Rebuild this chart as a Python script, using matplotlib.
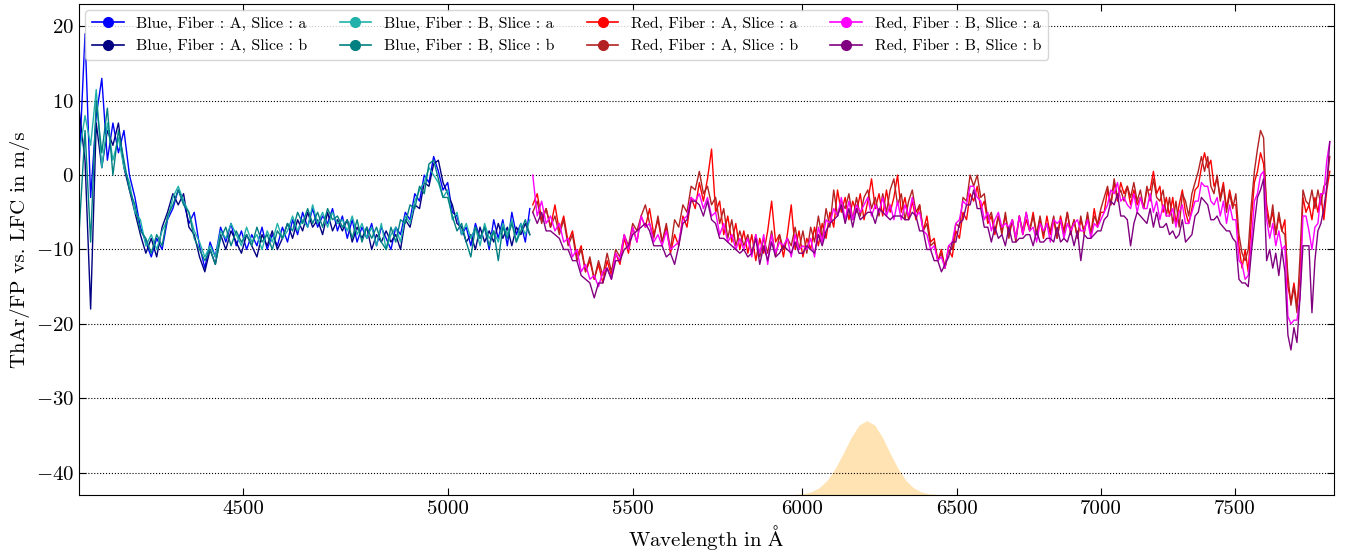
import matplotlib
matplotlib.use("Agg")
import matplotlib.pyplot as plt
import numpy as np
from matplotlib.ticker import NullLocator

plt.rcParams['font.family'] = ['cmr10', 'DejaVu Serif']
plt.rcParams['mathtext.fontset'] = 'cm'
plt.rcParams['axes.formatter.use_mathtext'] = True

# wavelength sampling (Angstrom) of the blue and red arm curves
blue_wave = np.arange(4136, 5217, 12)
red_wave = np.arange(5224, 7877, 12)

# ThAr/FP vs LFC offsets in m/s
blue_A_a = [2, 19, -3, 8, 13, 2, 7, 3, 6, 0,
            -3, -7, -9, -11, -8.5, -10, -6, -4.5, -2, -3.5,
            -6.5, -5, -9.5, -12.5, -9, -11, -7, -9, -6.5, -9.5,
            -7.5, -10, -8, -9.5, -7, -10, -8, -9.5, -7, -9,
            -6, -8, -5, -7, -4.5, -7, -5.5, -6.5, -4.5, -7.5,
            -5.5, -8.5, -6, -9, -7, -8.5, -6.5, -9.5, -7, -8.5,
            -10, -7, -8, -5, -6, -2.5, -3.5, 0, -1, 2.5,
            0.5, -2, -1, -5, -5.5, -8, -7, -9.5, -6.5, -8.5,
            -7, -10, -6, -8.5, -6, -9.5, -5, -8, -6.5, -9,
            -4.5]
blue_A_b = [8.5, 2, -18, 7, 1, 6, 4, 7, 1, -2,
            -5, -8, -10.5, -8.5, -11, -7, -5, -2.5, -4, -2.5,
            -7, -8, -11, -13, -10, -12, -8, -10, -7.5, -9,
            -10.5, -8, -9.5, -11, -8, -9.5, -7.5, -10, -8.5, -6.5,
            -8.5, -6, -7.5, -5, -7, -6, -8, -5, -7.5, -6,
            -7.5, -6, -9, -7, -8.5, -7, -10, -8, -9, -7.5,
            -9, -8, -10, -6, -7, -4, -4.5, -1, -1.5, 1.5,
            2, -1, -2.5, -4, -6.5, -7, -9, -8, -10, -7,
            -9, -7.5, -9, -6.5, -8.5, -7, -9.5, -7, -8, -6.5,
            -8]
blue_B_a = [3, 8, 4, 11.5, 1, 7, 2, 5, 1, -1,
            -5, -6, -9.5, -8, -10, -7.5, -6, -3, -1.5, -3.5,
            -5, -7.5, -9, -11, -9.5, -11, -7.5, -8.5, -6.5, -8,
            -9.5, -7, -9, -8, -10, -7.5, -9, -6.5, -8.5, -7.5,
            -5.5, -7.5, -6, -7, -4, -6.5, -5, -7, -5, -6.5,
            -6, -7.5, -5.5, -8, -6.5, -8.5, -7, -9.5, -6.5, -10,
            -8, -7, -9, -5.5, -6.5, -3.5, -2, -1, 1, 0,
            -1, -3, -2, -6, -5, -8, -6.5, -8.5, -7, -9.5,
            -6.5, -8.5, -7.5, -9, -6.5, -8, -6, -9, -6.5, -8,
            -6]
blue_B_b = [-7, 6, -9, 10, 3, 9, 0, 6, 2, -2,
            -4, -7.5, -8.5, -10.5, -8, -9.5, -5.5, -4, -2, -4,
            -5, -8.5, -10, -11.5, -10, -12, -8.5, -7, -9.5, -7.5,
            -9, -8, -9.5, -7, -9, -8, -10, -7.5, -8.5, -6.5,
            -7.5, -5, -6.5, -4.5, -6.5, -5, -7, -4.5, -6, -5.5,
            -7, -6, -8.5, -6, -9, -7, -8.5, -7, -9, -10,
            -7, -9, -6, -6.5, -4, -4.5, -1.5, -2.5, 1.5, 2,
            -0.5, -3, -3, -5.5, -7.5, -6.5, -9, -11, -7, -8.5,
            -7, -9.5, -7.5, -11.5, -7, -8.5, -6.5, -9, -7.5, -6,
            -8]

red_A_a = [-4, -2.5, -6, -4.5, -7, -4, -7.5, -5.5, -9, -7.5,
           -11, -9.5, -13, -11.5, -14, -12, -14.5, -11.5, -13.5, -10.5,
           -12, -8.5, -10.5, -7, -9, -5.5, -7, -4.5, -8, -6,
           -9, -7, -10.5, -8, -9.5, -5.5, -7, -3, -4.5, -1,
           -3.5, -0.5, 3.5, -5, -3.5, -8, -5.5, -9, -6.5, -10,
           -7.5, -10.5, -8, -11.5, -8.5, -10.5, -7.5, -3.5, -9, -8,
           -11, -8, -4, -10, -7.5, -11, -8.5, -10, -7, -9.5,
           -6.5, -8.5, -5, -7, -2, -5, -3, -6, -3.5, -5,
           -2.5, -6, -3.5, -0.5, -4.5, -2.5, -5.5, -2, -5, -3,
           0, -5, -3, -6, -3.5, -6, -4, -7.5, -5.5, -9,
           -8.5, -11.5, -10, -12.5, -10, -11, -7.5, -8.5, -5, -6,
           -2.5, -3.5, -1.5, -4.5, -3.5, -6.5, -5.5, -8, -5.5, -7.5,
           -5.5, -8, -6, -8.5, -5.5, -8, -6, -7.5, -5, -8,
           -6, -8.5, -5.5, -8, -6, -8.5, -5.5, -7.5, -5, -8,
           -6, -8.5, -6, -7.5, -5.5, -8, -4.5, -7, -5, -5,
           -2, -4, -1, -3.5, -1, -2.5, -1.5, -4, -2, -4,
           -3, -4.5, -2, -2, 0.5, -2.5, -1.5, -5, -3, -5.5,
           -3, -6.5, -4, -2, -5, -6.5, -4.5, -2, -1.5, 1,
           3, 1, 2, -1.5, -0.5, -3, -1, -4.5, -2, -4,
           -4, -9.5, -12.5, -10, -13, -6, -1, 0.5, 3, 1.5,
           -4, -6.5, -5, -8, -5.5, -7.5, -6, -15, -17, -14.5,
           -17.5, -14, -3, -5, -4, -6, -3, -5, -2.5, -6,
           -2, 0.5]
red_A_b = [-5, -3.5, -6.5, -4.5, -7, -5.5, -8, -6, -9.5, -8,
           -11.5, -10, -13, -11, -14, -11.5, -13.5, -10.5, -13, -10,
           -11, -8, -9.5, -6.5, -7.5, -5.5, -4, -6.5, -8.5, -5.5,
           -9, -6.5, -10, -6, -7, -4, -5, -1.5, -2, 0.5,
           -2.5, -1.5, -4, -3, -6.5, -4.5, -8.5, -6, -9.5, -7.5,
           -9.5, -8, -10.5, -8, -11, -8.5, -10.5, -7.5, -11, -8,
           -10, -8.5, -9.5, -7, -10, -7.5, -10.5, -7, -9, -5.5,
           -8.5, -4.5, -7, -2, -5.5, -3.5, -4.5, -2.5, -6, -3,
           -5.5, -3, -2, -4.5, -3, -5.5, -2.5, -5, -2, -0.5,
           -4, -2.5, -6, -3.5, -2, -5, -4, -7.5, -6.5, -9.5,
           -9, -11.5, -10.5, -12.5, -9.5, -10, -6.5, -7, -3, -3.5,
           0, -1.5, 0, -3, -2.5, -6, -5, -7.5, -5.5, -8,
           -5, -8.5, -6, -9, -5.5, -7.5, -5, -7.5, -5.5, -8,
           -5.5, -8, -6.5, -7.5, -5.5, -8.5, -6, -8, -5, -7.5,
           -6, -8.5, -5.5, -8, -5, -8, -5.5, -6.5, -4.5, -3,
           -1.5, -4, -0.5, -3, -2, -3.5, -1.5, -3, -1, -3.5,
           -2, -4.5, -1.5, -3.5, -0.5, -3, -3.5, -2, -5.5, -3,
           -6.5, -3.5, -7, -2.5, -3.5, -5.5, -2.5, -1, 0.5, 2.5,
           0.5, 2.5, -1.5, -2.5, 0, -3.5, -1.5, -5, -2.5, -4.5,
           -2.5, -8, -10.5, -11.5, -10, -4, 0.5, 3.5, 6, 5,
           -5, -7, -4, -8, -5, -7.5, -8, -13.5, -17.5, -15,
           -18.5, -11, -2, -3.5, -4, -2, -4.5, -2, -4, -1.5,
           -1, 2.5]
red_B_a = [0, -5.5, -3.5, -6.5, -5.5, -7.5, -6.5, -9, -8.5, -11,
           -10, -13, -12, -14, -13.5, -15, -13, -12.5, -14, -10.5,
           -11.5, -8, -10, -7, -9, -5.5, -7, -6.5, -9, -8,
           -9.5, -7.5, -10, -9.5, -9, -6, -5.5, -3, -3.5, -2.5,
           -4.5, -3, -5.5, -5, -8, -6.5, -9, -8, -10, -8.5,
           -10, -8.5, -11, -8, -10.5, -8, -12, -8, -10.5, -9,
           -9.5, -8.5, -11, -8, -10, -9.5, -10, -8.5, -11, -7,
           -9, -6, -6.5, -4.5, -5.5, -3, -6, -3.5, -6, -4,
           -5, -4, -3, -5.5, -4, -5, -3, -5.5, -4, -6,
           -3.5, -6, -4, -5.5, -3, -5.5, -5, -7.5, -8, -10,
           -9.5, -11.5, -11, -12.5, -9.5, -9, -6.5, -6, -3.5, -4,
           -1.5, -1.5, -3, -3.5, -6, -5, -7.5, -6, -5, -7,
           -6.5, -7, -6, -8.5, -5.5, -8, -5, -7.5, -7, -9,
           -6.5, -7.5, -6.5, -9, -6, -6.5, -6, -8.5, -6.5, -7.5,
           -6.5, -6, -7.5, -7.5, -6, -8.5, -6.5, -7, -6, -5,
           -4, -2, -2.5, -1, -3.5, -3, -4, -4.5, -2.5, -5,
           -3, -4.5, -4.5, -2.5, -5, -3.5, -6, -4, -5.5, -5.5,
           -4.5, -7, -5, -4, -6.5, -6.5, -5, -3.5, -3.5, -1,
           -1.5, -1.5, -3.5, -4, -3, -5.5, -3.5, -6.5, -4, -6,
           -6, -11.5, -12, -14, -13.5, -9, -3.5, -2.5, 0, 0.5,
           -6, -8.5, -6.5, -9.5, -7.5, -10, -9.5, -19, -20, -19.5,
           -19.5, -16.5, -5.5, -5.5, -7.5, -10, -7, -6.5, -2.5, -2.5,
           2, 4.5]
red_B_b = [-5, -6.5, -5, -7.5, -7.5, -8, -8.5, -10, -10, -11.5,
           -11.5, -13.5, -14, -14.5, -16.5, -14.5, -14.5, -12.5, -14, -11.5,
           -11.5, -10, -9.5, -8, -7.5, -7, -6.5, -7.5, -9.5, -9.5,
           -9.5, -11, -10.5, -12, -9.5, -6.5, -6, -3.5, -3.5, -4,
           -5.5, -3.5, -6, -6.5, -8.5, -8.5, -9, -9.5, -10, -10.5,
           -10, -11, -10.5, -8.5, -12, -9.5, -11.5, -9, -11, -10.5,
           -9.5, -10, -10.5, -9, -10.5, -10.5, -9.5, -10, -10.5, -8,
           -9.5, -7.5, -6.5, -6, -5.5, -4, -6.5, -4.5, -7, -4.5,
           -6, -5.5, -5, -5, -6.5, -4.5, -5, -5.5, -6, -5.5,
           -5.5, -5.5, -6, -6, -5, -5.5, -7.5, -7.5, -10, -10,
           -11.5, -11.5, -13, -12, -11, -9, -9, -6.5, -6, -4,
           -4, -2, -4.5, -4.5, -7, -7, -9, -7, -8.5, -8,
           -9.5, -7, -9, -9, -8.5, -8.5, -8, -8, -9.5, -7.5,
           -9, -9, -8.5, -8.5, -9, -7, -9, -8.5, -9, -7.5,
           -9.5, -7.5, -11.5, -8, -8.5, -8.5, -8, -7.5, -7.5, -6,
           -5.5, -3.5, -4, -2.5, -5.5, -5.5, -6, -9.5, -6.5, -5,
           -5.5, -6, -6.5, -4.5, -7, -5, -7, -7, -6.5, -8,
           -7.5, -8.5, -8, -6, -9, -8.5, -8, -5.5, -5, -3,
           -3.5, -4, -6, -6, -5.5, -6.5, -7, -7.5, -7.5, -8.5,
           -9, -14, -14.5, -14.5, -15, -10.5, -6.5, -3, -2, -0.5,
           -11.5, -10, -12.5, -10.5, -13.5, -10, -13, -21.5, -23.5, -20.5,
           -22.5, -16.5, -9.5, -9.5, -9.5, -18.5, -11.5, -7.5, -6.5, -4.5,
           -1.5, 4.5]

# shaded band profile near the bottom
band_wave = [4135, 5900, 5955, 6005, 6030, 6055, 6080, 6105, 6130, 6155, 6180,
             6205, 6230, 6255, 6280, 6305, 6330, 6355, 6380, 6405, 6455, 7895]
band_top = [-43, -43, -42.98, -42.83, -42.56, -42.0, -41.0, -39.4, -37.4, -35.25, -33.6,
            -33.0, -33.6, -35.25, -37.4, -39.4, -41.0, -42.0, -42.56, -42.83, -42.98, -43]

labels = ['Blue, Fiber : A, Slice : a', 'Blue, Fiber : A, Slice : b',
          'Blue, Fiber : B, Slice : a', 'Blue, Fiber : B, Slice : b',
          'Red, Fiber : A, Slice : a', 'Red, Fiber : A, Slice : b',
          'Red, Fiber : B, Slice : a', 'Red, Fiber : B, Slice : b']
colors = ['blue', 'navy', 'lightseagreen', 'teal',
          'red', 'firebrick', 'magenta', 'purple']
series = [blue_A_a, blue_A_b, blue_B_a, blue_B_b,
          red_A_a, red_A_b, red_B_a, red_B_b]

fig = plt.figure(figsize=(13.54, 5.54), dpi=100)
ax = fig.add_axes([0.0583, 0.1065, 0.9269, 0.8863])

ax.fill_between(band_wave, -43, band_top, color='orange', alpha=0.3, lw=0)

for i in range(8):
    wave = blue_wave if i < 4 else red_wave
    ax.plot(wave, series[i], color=colors[i], lw=1.0, label=labels[i])
# legend handles with dot markers
handles = [plt.Line2D([], [], color=c, marker='o', lw=1.2, ms=7) for c in colors]

ax.set_xscale('log')
ax.set_xlim(4135, 7893)
ax.set_ylim(-43, 23)
xt = [4500, 5000, 5500, 6000, 6500, 7000, 7500]
ax.set_xticks(xt, labels=[str(t) for t in xt])
ax.xaxis.set_minor_locator(NullLocator())
ax.set_yticks([-40, -30, -20, -10, 0, 10, 20])
ax.tick_params(direction='in', top=True, right=True, labelsize=15, length=5)
ax.grid(axis='y', color='black', ls=':', lw=0.8)
ax.set_xlabel(r'Wavelength in $\mathrm{\AA}$', fontsize=15)
ax.set_ylabel('ThAr/FP vs. LFC in m/s', fontsize=15)
ax.legend(handles, labels, loc='upper left', ncol=4, fontsize=11.5,
          borderaxespad=0.4, columnspacing=2.0, handlelength=2.0)

plt.savefig('out.png')
